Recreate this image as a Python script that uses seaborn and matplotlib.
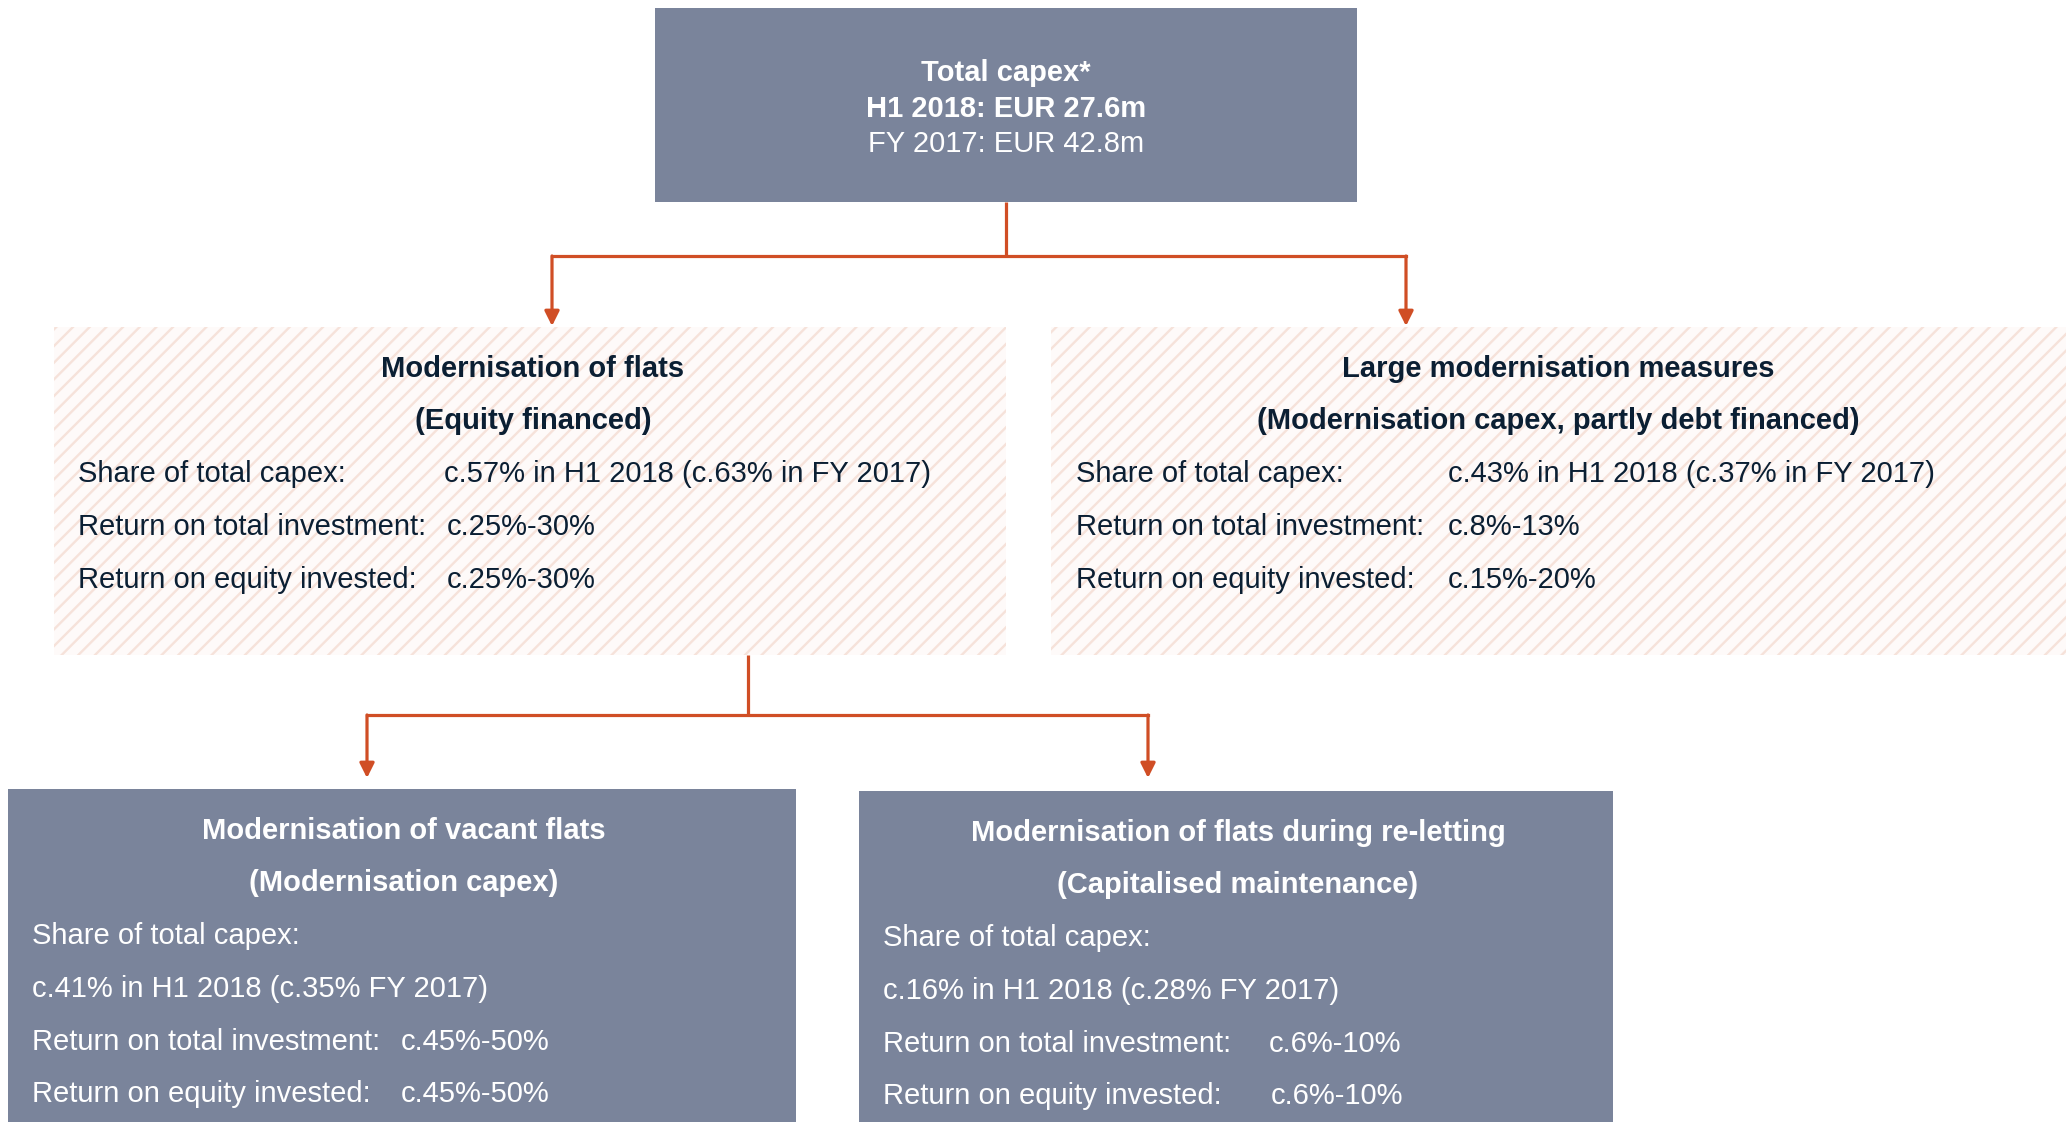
import matplotlib
matplotlib.use('Agg')
import matplotlib.pyplot as plt
from matplotlib.patches import Rectangle
import seaborn as sns

# ---- text content of the chart ----
top_lines = ["Total capex*", "H1 2018: EUR 27.6m", "FY 2017: EUR 42.8m"]
top_bold = [True, True, False]

mid_titles = ["Modernisation of flats", "Large modernisation measures"]
mid_subtitles = ["(Equity financed)", "(Modernisation capex, partly debt financed)"]
mid_labels = ["Share of total capex:", "Return on total investment:", "Return on equity invested:"]
mid_left_values = ["c.57% in H1 2018 (c.63% in FY 2017)", "c.25%-30%", "c.25%-30%"]
mid_right_values = ["c.43% in H1 2018 (c.37% in FY 2017)", "c.8%-13%", "c.15%-20%"]

low_titles = ["Modernisation of vacant flats", "Modernisation of flats during re-letting"]
low_subtitles = ["(Modernisation capex)", "(Capitalised maintenance)"]
low_share_label = "Share of total capex:"
low_shares = ["c.41% in H1 2018 (c.35% FY 2017)", "c.16% in H1 2018 (c.28% FY 2017)"]
low_labels = ["Return on total investment:", "Return on equity invested:"]
low_left_values = ["c.45%-50%", "c.45%-50%"]
low_right_values = ["c.6%-10%", "c.6%-10%"]

# ---- styling ----
sns.set_theme(style="white")
plt.rcParams['font.family'] = ['Liberation Sans', 'DejaVu Sans']
plt.rcParams['hatch.linewidth'] = 1.7
plt.rcParams['hatch.color'] = '#F6E2DA'

BOX = '#7A849B'
NAVY = '#0B1F33'
ORANGE = '#D04E25'
FS = 21

W, H = 2070, 1122
fig = plt.figure(figsize=(W / 100, H / 100), dpi=100)
ax = fig.add_axes([0, 0, 1, 1])
ax.set_xlim(0, W)
ax.set_ylim(H, 0)
ax.axis('off')


def txt(x, y, s, color, bold=False, ha='left'):
    # y is the vertical centre of capital letters
    ax.text(x, y + 10.5, s, color=color, fontsize=FS, ha=ha, va='baseline',
            fontweight='bold' if bold else 'normal')


def solid_box(x0, y0, x1, y1):
    ax.add_patch(Rectangle((x0, y0), x1 - x0, y1 - y0, facecolor=BOX,
                           edgecolor='none', zorder=1))


def hatched_box(x0, y0, x1, y1):
    ax.add_patch(Rectangle((x0, y0), x1 - x0, y1 - y0, facecolor='#FEFAF9',
                           edgecolor='#F6E2DA', linewidth=0, hatch='//', zorder=1))


def connector(xc, y_top, y_mid, xs, y_end):
    ax.plot([xc, xc], [y_top, y_mid], color=ORANGE, lw=2.3, solid_capstyle='butt', zorder=2)
    ax.plot([min(xs), max(xs)], [y_mid, y_mid], color=ORANGE, lw=2.3,
            solid_capstyle='projecting', zorder=2)
    for x in xs:
        ax.annotate('', xy=(x, y_end), xytext=(x, y_mid),
                    arrowprops=dict(arrowstyle='-|>', color=ORANGE, lw=2.3,
                                    mutation_scale=22, shrinkA=0, shrinkB=0), zorder=2)


# top box
solid_box(655, 8, 1357, 202)
for yy, s, b in zip([70, 106, 141], top_lines, top_bold):
    txt(1006, yy, s, 'white', bold=b, ha='center')

connector(1006, 202, 256, [552, 1406], 326)

# middle hatched boxes
mid_boxes = [(54, 1006), (1051, 2066)]
mid_centres = [533, 1558]
mid_label_x = [78, 1076]
mid_value_x = [[444, 447, 447], [1448, 1448, 1448]]
mid_values = [mid_left_values, mid_right_values]
for i in range(2):
    hatched_box(mid_boxes[i][0], 327, mid_boxes[i][1], 655)
    txt(mid_centres[i], 366, mid_titles[i], NAVY, bold=True, ha='center')
    txt(mid_centres[i], 418, mid_subtitles[i], NAVY, bold=True, ha='center')
    for j, yy in enumerate([471, 524, 577]):
        txt(mid_label_x[i], yy, mid_labels[j], NAVY)
        txt(mid_value_x[i][j], yy, mid_values[i][j], NAVY)

connector(748, 655, 715, [367, 1148], 778)

# bottom solid boxes
low_boxes = [(8, 789, 796), (859, 791, 1613)]
low_centres = [404, 1238]
low_label_x = [32, 883]
low_value_x = [[401, 401], [1269, 1271]]
low_values = [low_left_values, low_right_values]
for i in range(2):
    x0, y0, x1 = low_boxes[i]
    solid_box(x0, y0, x1, H + 5)
    dy = y0 - 789
    txt(low_centres[i], 828 + dy, low_titles[i], 'white', bold=True, ha='center')
    txt(low_centres[i], 880 + dy, low_subtitles[i], 'white', bold=True, ha='center')
    txt(low_label_x[i], 933 + dy, low_share_label, 'white')
    txt(low_label_x[i], 986 + dy, low_shares[i], 'white')
    for j, yy in enumerate([1039, 1092]):
        txt(low_label_x[i], yy + dy, low_labels[j], 'white')
        txt(low_value_x[i][j], yy + dy, low_values[i][j], 'white')

fig.savefig('out.png', dpi=100, facecolor='white')
